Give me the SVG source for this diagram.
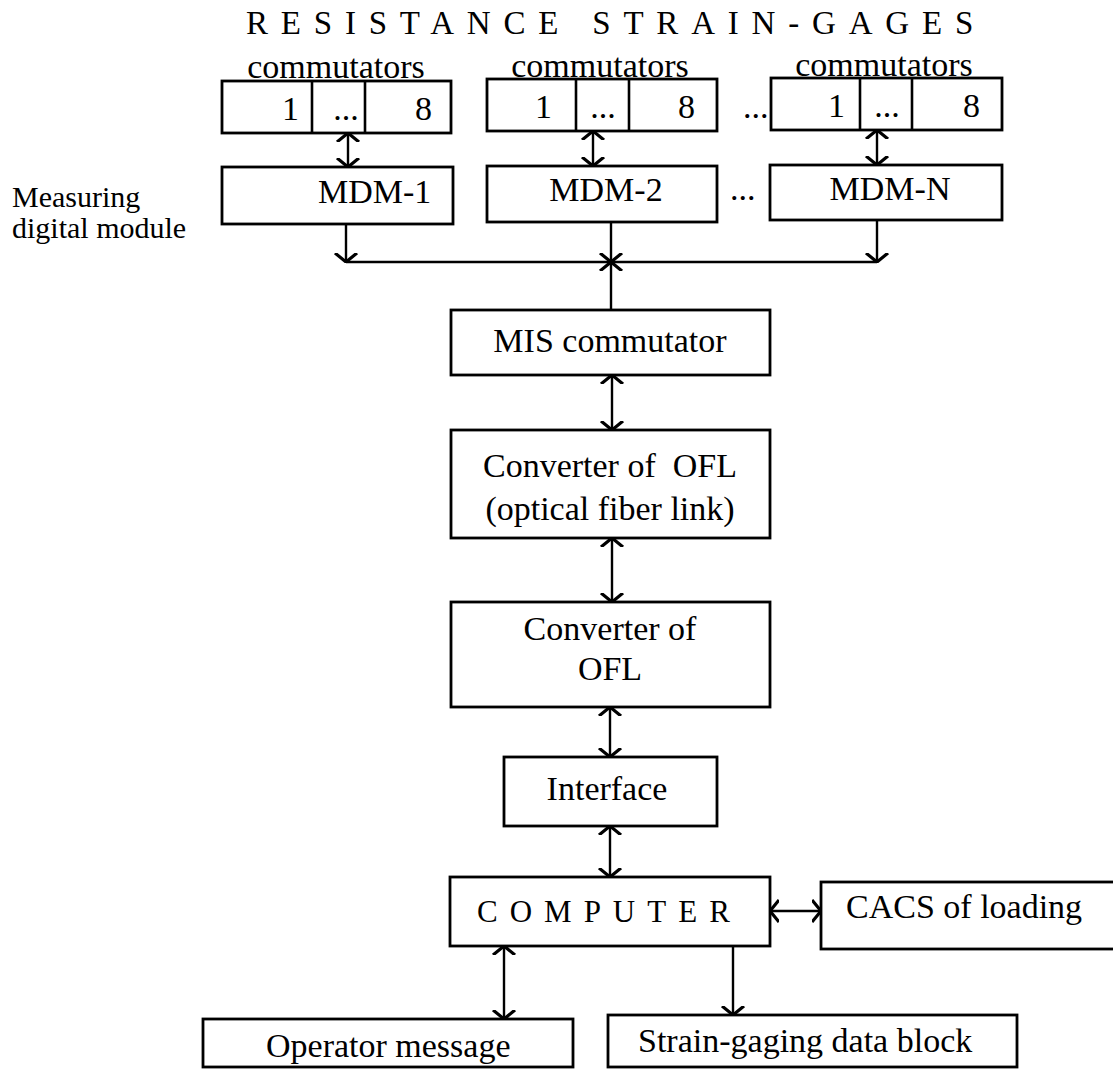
<svg xmlns="http://www.w3.org/2000/svg" width="1113" height="1070" viewBox="0 0 1113 1070">
<style>
.box{fill:#fff;stroke:#000;stroke-width:2.8}
.div{stroke:#000;stroke-width:2.6}
.t{font-family:"Liberation Serif","Times New Roman",serif;font-size:34px;fill:#000}
.c{text-anchor:middle}
.e{text-anchor:end}
.con{fill:none;stroke:#000;stroke-width:2.4}
</style>
<defs>
<marker id="ah" viewBox="0 0 10 24" refX="9" refY="12" markerWidth="10" markerHeight="24" markerUnits="userSpaceOnUse" orient="auto-start-reverse">
<path d="M0,1 L9,12 L0,23" fill="none" stroke="#000" stroke-width="3.2"/>
</marker>
</defs>
<rect width="1113" height="1070" fill="#fff"/>
<g id="title"><text class="t" x="246" y="34" style="font-size:33px;letter-spacing:12.8px">RESISTANCE STRAIN-GAGES</text></g>
<g id="label-mdm"><text class="t" x="12" y="207" style="font-size:30px">Measuring</text><text class="t" x="12" y="238" style="font-size:30px">digital module</text></g>
<g id="comm1">
<text class="t c" x="336" y="78">commutators</text>
<rect class="box" x="222" y="81" width="229" height="52"/>
<line class="div" x1="312" y1="81" x2="312" y2="133"/><line class="div" x1="365" y1="81" x2="365" y2="133"/>
<text class="t e" x="299" y="120">1</text><text class="t c" x="346" y="120">...</text><text class="t e" x="432" y="120">8</text>
</g>
<g id="comm2">
<text class="t c" x="600" y="77">commutators</text>
<rect class="box" x="487" y="79" width="230" height="52"/>
<line class="div" x1="576" y1="79" x2="576" y2="131"/><line class="div" x1="629" y1="79" x2="629" y2="131"/>
<text class="t e" x="552" y="118">1</text><text class="t c" x="603" y="118">...</text><text class="t e" x="695" y="118">8</text>
</g>
<g id="dots-top"><text class="t" x="743" y="118">...</text></g>
<g id="comm3">
<text class="t c" x="884" y="76">commutators</text>
<rect class="box" x="771" y="78" width="231" height="52"/>
<line class="div" x1="860" y1="78" x2="860" y2="130"/><line class="div" x1="912" y1="78" x2="912" y2="130"/>
<text class="t e" x="845" y="117">1</text><text class="t c" x="887" y="117">...</text><text class="t e" x="980" y="117">8</text>
</g>
<g id="mdm1"><rect class="box" x="222" y="167" width="231" height="57"/><text class="t" x="318" y="203">MDM-1</text></g>
<g id="mdm2"><rect class="box" x="487" y="166" width="230" height="56"/><text class="t c" x="606" y="201">MDM-2</text></g>
<g id="dots-mid"><text class="t" x="730" y="200">...</text></g>
<g id="mdmn"><rect class="box" x="770" y="165" width="232" height="55"/><text class="t c" x="890" y="200">MDM-N</text></g>
<g id="mis"><rect class="box" x="451" y="310" width="319" height="65"/><text class="t c" x="610" y="352">MIS commutator</text></g>
<g id="conv1"><rect class="box" x="451" y="430" width="319" height="108"/><text class="t c" x="610" y="477" xml:space="preserve" style="white-space:pre">Converter of  OFL</text><text class="t c" x="610" y="520">(optical fiber link)</text></g>
<g id="conv2"><rect class="box" x="451" y="602" width="319" height="105"/><text class="t c" x="610" y="640">Converter of</text><text class="t c" x="610" y="680">OFL</text></g>
<g id="interface"><rect class="box" x="504" y="757" width="213" height="69"/><text class="t c" x="607" y="800">Interface</text></g>
<g id="computer"><rect class="box" x="450" y="877" width="320" height="69"/><text class="t" x="477" y="922" style="font-size:31px;letter-spacing:12px">COMPUTER</text></g>
<g id="cacs"><rect class="box" x="821" y="882" width="300" height="67"/><text class="t" x="846" y="918">CACS of loading</text></g>
<g id="operator"><rect class="box" x="203" y="1019" width="370" height="48"/><text class="t" x="266" y="1057">Operator message</text></g>
<g id="strain"><rect class="box" x="608" y="1015" width="409" height="52"/><text class="t" x="638" y="1052">Strain-gaging data block</text></g>
<g id="connectors">
<line class="con" x1="348" y1="133" x2="348" y2="167" marker-start="url(#ah)" marker-end="url(#ah)"/>
<line class="con" x1="593" y1="131" x2="593" y2="166" marker-start="url(#ah)" marker-end="url(#ah)"/>
<line class="con" x1="877" y1="130" x2="877" y2="165" marker-start="url(#ah)" marker-end="url(#ah)"/>
<line class="con" x1="346" y1="224" x2="346" y2="262" marker-end="url(#ah)"/>
<line class="con" x1="611" y1="222" x2="611" y2="262" marker-end="url(#ah)"/>
<line class="con" x1="877" y1="220" x2="877" y2="262" marker-end="url(#ah)"/>
<line class="con" x1="346" y1="262" x2="877" y2="262"/>
<line class="con" x1="611" y1="310" x2="611" y2="262" marker-end="url(#ah)"/>
<line class="con" x1="612" y1="375" x2="612" y2="430" marker-start="url(#ah)" marker-end="url(#ah)"/>
<line class="con" x1="612" y1="538" x2="612" y2="602" marker-start="url(#ah)" marker-end="url(#ah)"/>
<line class="con" x1="610" y1="707" x2="610" y2="757" marker-start="url(#ah)" marker-end="url(#ah)"/>
<line class="con" x1="610" y1="826" x2="610" y2="877" marker-start="url(#ah)" marker-end="url(#ah)"/>
<line class="con" x1="770" y1="911" x2="821" y2="911" marker-start="url(#ah)" marker-end="url(#ah)"/>
<line class="con" x1="504" y1="946" x2="504" y2="1019" marker-start="url(#ah)" marker-end="url(#ah)"/>
<line class="con" x1="733" y1="946" x2="733" y2="1015" marker-end="url(#ah)"/>
</g>
</svg>
